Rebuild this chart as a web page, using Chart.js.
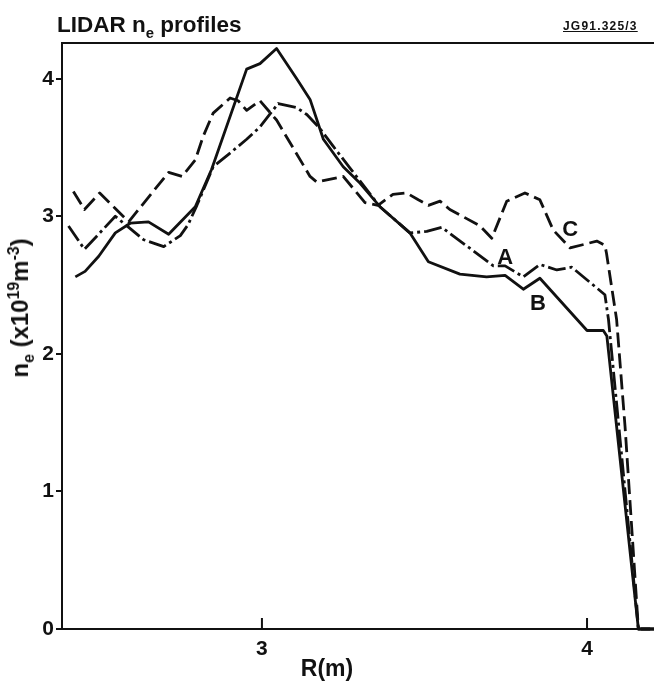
<!DOCTYPE html>
<html>
<head>
<meta charset="utf-8">
<script src="https://cdn.jsdelivr.net/npm/chart.js@4.4.1/dist/chart.umd.min.js"></script>
<style>
  body { margin: 0; background: #fff; }
  #wrap { position: relative; width: 654px; height: 681px; overflow: hidden; font-family: "Liberation Sans", Arial, sans-serif; color: #111; }
  #chart { position: absolute; left: 0; top: 0; }
  .txt { position: absolute; font-weight: bold; white-space: nowrap; }
  #title { left: 57px; top: 14px; font-size: 22.5px; line-height: 22px; }
  #code { left: 563px; top: 20px; font-size: 12px; line-height: 12px; letter-spacing: 1.2px; text-decoration: underline; }
  #ylab { left: 20px; top: 308px; font-size: 24px; line-height: 24px; transform: translate(-50%, -50%) rotate(-90deg); }
  #xlab { left: 327px; top: 657px; font-size: 23px; line-height: 23px; transform: translateX(-50%); }
  sub, sup { font-size: 66%; line-height: 0; }
</style>
</head>
<body>
<div id="wrap">
  <canvas id="chart" width="654" height="681"></canvas>
  <div class="txt" id="title">LIDAR n<sub>e</sub> profiles</div>
  <div class="txt" id="code">JG91.325/3</div>
  <div class="txt" id="ylab">n<sub>e</sub> (x10<sup>19</sup>m<sup>-3</sup>)</div>
  <div class="txt" id="xlab">R(m)</div>
</div>
<script>
// Profile A (dash-dot)
const rA = [2.405, 2.454, 2.549, 2.636, 2.698, 2.749, 2.773, 2.800, 2.850, 2.902, 2.953, 2.994, 3.050, 3.107,
            3.138, 3.178, 3.219, 3.271, 3.363, 3.455, 3.507, 3.553, 3.712, 3.748, 3.804, 3.855, 3.907, 3.953,
            4.055, 4.066, 4.158, 4.206];
const neA = [2.93, 2.76, 3.00, 2.83, 2.78, 2.86, 2.94, 3.08, 3.36, 3.46, 3.56, 3.65, 3.82, 3.79,
             3.74, 3.64, 3.51, 3.35, 3.07, 2.88, 2.89, 2.92, 2.64, 2.64, 2.56, 2.65, 2.61, 2.63,
             2.43, 2.25, 0, 0];

// Profile B (solid)
const rB = [2.426, 2.456, 2.498, 2.549, 2.595, 2.651, 2.713, 2.795, 2.845, 2.953, 2.994, 3.045, 3.107, 3.148,
            3.189, 3.250, 3.302, 3.363, 3.455, 3.512, 3.609, 3.691, 3.748, 3.804, 3.855, 4.000, 4.050, 4.061,
            4.158, 4.206];
const neB = [2.56, 2.60, 2.71, 2.88, 2.95, 2.96, 2.87, 3.07, 3.34, 4.07, 4.11, 4.22, 4.00, 3.85,
             3.56, 3.36, 3.24, 3.07, 2.88, 2.67, 2.58, 2.56, 2.57, 2.47, 2.55, 2.17, 2.17, 2.13,
             0, 0];

// Profile C (dashed)
const rC = [2.420, 2.454, 2.501, 2.590, 2.713, 2.754, 2.795, 2.819, 2.850, 2.902, 2.927, 2.953, 2.994, 3.045,
            3.148, 3.168, 3.250, 3.317, 3.357, 3.403, 3.445, 3.481, 3.512, 3.548, 3.578, 3.671, 3.707, 3.753,
            3.809, 3.855, 3.896, 3.948, 4.030, 4.055, 4.060, 4.091, 4.117, 4.158, 4.206];
const neC = [3.18, 3.05, 3.17, 2.96, 3.32, 3.29, 3.41, 3.58, 3.75, 3.86, 3.84, 3.77, 3.84, 3.70,
             3.29, 3.25, 3.29, 3.10, 3.08, 3.16, 3.17, 3.12, 3.08, 3.11, 3.05, 2.93, 2.84, 3.11,
             3.17, 3.12, 2.90, 2.77, 2.82, 2.79, 2.73, 2.25, 1.47, 0, 0];

// Curve labels, placed in data units
const curveNames = ['A', 'B', 'C'];
const nameR = [3.748, 3.849, 3.948];
const nameNe = [2.70, 2.36, 2.90];

const xTicks = [3, 4];
const yTicks = [0, 1, 2, 3, 4];

const INK = '#111';
const FONT = "'Liberation Sans', Arial, sans-serif";

function toPoints(xs, ys) {
    return xs.map((x, i) => ({ x: x, y: ys[i] }));
}

// Top frame line, inward x ticks and the A/B/C names
const framePlugin = {
    id: 'frame',
    afterDraw(chart) {
        const ctx = chart.ctx;
        const area = chart.chartArea;
        const xs = chart.scales.x;
        const ys = chart.scales.y;
        ctx.save();
        ctx.strokeStyle = INK;
        ctx.lineWidth = 2;
        ctx.beginPath();
        ctx.moveTo(area.left, area.top);
        ctx.lineTo(area.right, area.top);
        xs.ticks.forEach(t => {
            const px = xs.getPixelForValue(t.value);
            ctx.moveTo(px, area.bottom);
            ctx.lineTo(px, area.bottom - 11);
        });
        ctx.stroke();

        ctx.fillStyle = INK;
        ctx.font = 'bold 22px ' + FONT;
        ctx.textAlign = 'center';
        ctx.textBaseline = 'middle';
        curveNames.forEach((n, i) => {
            ctx.fillText(n, xs.getPixelForValue(nameR[i]), ys.getPixelForValue(nameNe[i]));
        });
        ctx.restore();
    }
};

const lineStyle = {
    borderColor: INK,
    borderWidth: 2.8,
    pointRadius: 0,
    tension: 0,
    fill: false,
    borderJoinStyle: 'round',
    clip: false
};

new Chart(document.getElementById('chart').getContext('2d'), {
    type: 'line',
    data: {
        datasets: [
            Object.assign({ label: 'A', data: toPoints(rA, neA), borderDash: [18, 4, 3, 4] }, lineStyle),
            Object.assign({ label: 'B', data: toPoints(rB, neB) }, lineStyle),
            Object.assign({ label: 'C', data: toPoints(rC, neC), borderDash: [15, 6] }, lineStyle)
        ]
    },
    options: {
        responsive: false,
        animation: false,
        events: [],
        layout: { padding: { top: 43, left: 0, right: 0, bottom: 0 } },
        plugins: {
            legend: { display: false },
            tooltip: { enabled: false }
        },
        scales: {
            x: {
                type: 'linear',
                min: 2.385,
                max: 4.206,
                afterBuildTicks: s => { s.ticks = xTicks.map(v => ({ value: v })); },
                afterFit: s => { s.height = 52; },
                border: { display: true, color: INK, width: 2 },
                grid: { display: false, drawTicks: false },
                ticks: {
                    color: INK,
                    padding: 8,
                    maxRotation: 0,
                    font: { family: FONT, size: 21, weight: 'bold' }
                }
            },
            y: {
                min: 0,
                max: 4.26,
                afterBuildTicks: s => { s.ticks = yTicks.map(v => ({ value: v })); },
                afterFit: s => { s.width = 62; },
                border: { display: true, color: INK, width: 2 },
                grid: { drawOnChartArea: false, drawTicks: true, tickLength: 6, color: INK, lineWidth: 2 },
                ticks: {
                    color: INK,
                    padding: 2,
                    font: { family: FONT, size: 21, weight: 'bold' }
                }
            }
        }
    },
    plugins: [framePlugin]
});
</script>
</body>
</html>
